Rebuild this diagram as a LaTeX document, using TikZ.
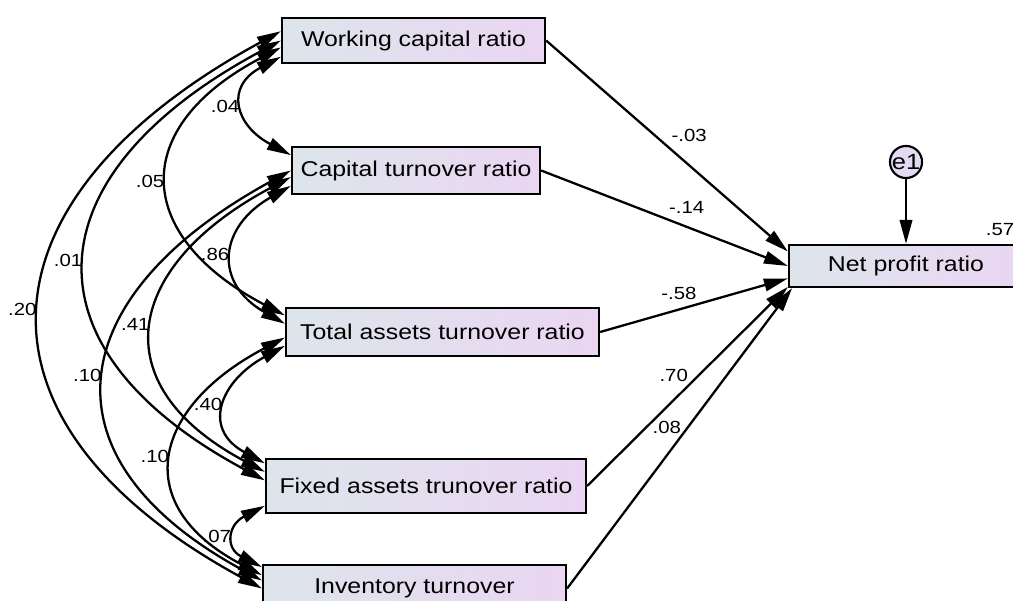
\documentclass[tikz,border=0pt]{standalone}
\usepackage{fontspec}
\setmainfont{Liberation Sans}[FakeStretch=1.16]
\usepackage{tikz}
\usetikzlibrary{arrows.meta}
\definecolor{boxleft}{RGB}{221,229,235}
\definecolor{boxright}{RGB}{234,214,242}
\definecolor{errfill}{RGB}{228,218,242}

\begin{document}
\begin{tikzpicture}[
  x=0.02cm, y=-0.02cm,
  var/.style={draw, line width=1.3pt, left color=boxleft, right color=boxright, inner sep=0pt, font=\fontsize{12.2}{14}\selectfont},
  err/.style={draw, circle, line width=1.2pt, fill=errfill, inner sep=0pt, minimum size=0.62cm, font=\fontsize{12.5}{13}\selectfont},
  reg/.style={-{Triangle[length=0.48cm,width=0.25cm]}, line width=1.3pt},
  cov/.style={{Triangle[length=0.48cm,width=0.25cm]}-{Triangle[length=0.48cm,width=0.25cm]}, line width=1.3pt},
  lbl/.style={font=\fontsize{10}{11}\selectfont, inner sep=2pt}
  ]
  \useasboundingbox (0,0) rectangle (1013,601);

  % Observed variables
  \node[var, minimum width=5.26cm, minimum height=0.9cm] (wcr) at (413.5,40.5) {Working capital ratio};
  \node[var, minimum width=4.96cm, minimum height=0.94cm] (ctr) at (416,170.5) {Capital turnover ratio};
  \node[var, minimum width=6.26cm, minimum height=0.96cm] (tatr) at (442.5,332) {Total assets turnover ratio};
  \node[var, minimum width=6.4cm, minimum height=1.08cm] (fatr) at (426,486) {Fixed assets trunover ratio};
  \node[var, minimum width=6.06cm, minimum height=0.94cm] (itr) at (414.5,588.5) {Inventory turnover};

  % Outcome and error
  \node[var, minimum width=4.68cm, minimum height=0.84cm] (npr) at (906,266) {Net profit ratio};
  \node[err] (e1) at (906,162) {e1};
  \node[lbl] (rsq) at (1000,230) {.57};

  % Regression paths
  \draw[reg] (wcr.east) -- (npr.173.7) node[lbl, pos=0.5, above right] {-.03};
  \draw[reg] (ctr.east) -- (npr.180) node[lbl, pos=0.5, above right] {-.14};
  \draw[reg] (tatr.east) -- (npr.186.8) node[lbl, pos=0.42, above=3pt] {-.58};
  \draw[reg] (fatr.east) -- (npr.190.9) node[lbl, pos=0.5, above left, xshift=0.1cm] {.70};
  \draw[reg] (itr.east) -- (npr.191.8) node[lbl, pos=0.5, above left, xshift=0.12cm] {.08};
  \draw[reg] (e1) -- (npr);

  % Covariances
  \draw[cov] (wcr.187.2) .. controls +(-56,30) and +(-56,-30) .. (ctr.173.1) node[lbl, pos=0.5, left] {.04};
  \draw[cov] (wcr.183.5) .. controls +(-152,80) and +(-152,-80) .. (tatr.174.2) node[lbl, pos=0.5, left] {.05};
  \draw[cov] (wcr.180) .. controls +(-248,133) and +(-248,-133) .. (fatr.178.9) node[lbl, pos=0.5, left] {.01};
  \draw[cov] (wcr.176.5) .. controls +(-307,167) and +(-307,-167) .. (itr.180.8) node[lbl, pos=0.5, left] {.20};
  \draw[cov] (ctr.187.8) .. controls +(-72,41) and +(-72,-41) .. (tatr.177.1) node[lbl, pos=0.5, left] {.86};
  \draw[cov] (ctr.183.7) .. controls +(-165,88) and +(-165,-88) .. (fatr.175.4) node[lbl, pos=0.5, left] {.41};
  \draw[cov] (ctr.180) .. controls +(-227,124) and +(-227,-124) .. (itr.177.7) node[lbl, pos=0.5, left] {.10};
  \draw[cov] (tatr.185.8) .. controls +(-64,35) and +(-64,-35) .. (fatr.172.2) node[lbl, pos=0.5, left] {.40};
  \draw[cov] (tatr.182.9) .. controls +(-133,70) and +(-133,-70) .. (itr.175.1) node[lbl, pos=0.5, left] {.10};
  \draw[cov] (fatr.187.1) .. controls +(-37,19) and +(-37,-19) .. (itr.172.3) node[lbl, pos=0.5, left] {.07};

\end{tikzpicture}
\end{document}
